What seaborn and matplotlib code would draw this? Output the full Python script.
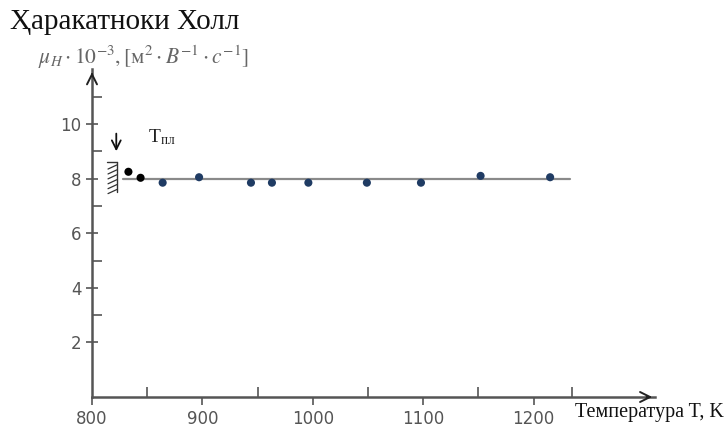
import matplotlib
matplotlib.use("Agg")
import matplotlib.pyplot as plt
import seaborn as sns
import pandas as pd
import numpy as np
from matplotlib.ticker import FixedLocator

# ---- data ----
temps = [833, 844, 864, 897, 944, 963, 996, 1049, 1098, 1152, 1215]
mobility = [8.25, 8.03, 7.85, 8.05, 7.85, 7.85, 7.85, 7.85, 7.85, 8.1, 8.05]
phase = ["solid", "solid", "melt", "melt", "melt", "melt", "melt", "melt", "melt", "melt", "melt"]
fit_t = [828, 1233]
fit_mu = [8.0, 8.0]
x_major = [800, 900, 1000, 1100, 1200]
x_minor = [850, 950, 1050, 1150, 1235]
y_major = [2, 4, 6, 8, 10]
y_minor = [3, 5, 7, 9, 11]

df = pd.DataFrame({"T": temps, "mu": mobility, "phase": phase})
fit = pd.DataFrame({"T": fit_t, "mu": fit_mu})

sns.set_style("white")
plt.rcParams["font.family"] = ["DejaVu Sans"]
plt.rcParams["mathtext.fontset"] = "stix"

fig = plt.figure(figsize=(7.26, 4.28), dpi=100)
ax = fig.add_axes([92 / 726, 31 / 428, 563 / 726, 327.6 / 428])

axis_c = "#555555"
sns.lineplot(data=fit, x="T", y="mu", ax=ax, color="#8a8a8a", lw=1.6)
sns.scatterplot(data=df, x="T", y="mu", hue="phase",
                palette={"solid": "#000000", "melt": "#1f3b63"},
                s=34, edgecolor="none", legend=False, ax=ax, zorder=3)

ax.set_xlim(800, 1310)
ax.set_ylim(0, 12)
for s in ["top", "right"]:
    ax.spines[s].set_visible(False)
for s in ["left", "bottom"]:
    ax.spines[s].set_color(axis_c)
    ax.spines[s].set_linewidth(1.8)

ax.xaxis.set_major_locator(FixedLocator(x_major))
ax.xaxis.set_minor_locator(FixedLocator(x_minor))
ax.yaxis.set_major_locator(FixedLocator(y_major))
ax.yaxis.set_minor_locator(FixedLocator(y_minor))
ax.tick_params(axis="x", which="both", bottom=True)
ax.tick_params(axis="y", which="both", left=True)
ax.tick_params(axis="x", which="major", direction="out", length=6, width=1.2,
               color=axis_c, labelsize=12, labelcolor="#555555", pad=3)
ax.tick_params(axis="x", which="minor", direction="in", length=7, width=1.2, color=axis_c)
ax.tick_params(axis="y", which="major", direction="inout", length=9, width=1.2,
               color=axis_c, labelsize=12, labelcolor="#555555", pad=3)
ax.tick_params(axis="y", which="minor", direction="in", length=7, width=1.2, color=axis_c)
ax.set_xlabel("")
ax.set_ylabel("")

# axis arrows
ax.annotate("", xy=(1.0, 0), xytext=(0.98, 0), xycoords="axes fraction",
            arrowprops=dict(arrowstyle="->", color="#222222", lw=1.4,
                            mutation_scale=18), annotation_clip=False)
ax.annotate("", xy=(0, 1.0), xytext=(0, 0.97), xycoords="axes fraction",
            arrowprops=dict(arrowstyle="->", color="#222222", lw=1.4,
                            mutation_scale=18), annotation_clip=False)

# melting point marker: down arrow and hatched wall
ax.annotate("", xy=(822, 8.9), xytext=(822, 9.75),
            arrowprops=dict(arrowstyle="->", color="#111111", lw=1.3, mutation_scale=16))
wall_x = 822.5
ax.plot([wall_x, wall_x], [7.5, 8.6], color="#333333", lw=1.0)
ax.plot([wall_x - 9, wall_x], [8.6, 8.6], color="#333333", lw=1.0)
for yy in np.linspace(7.55, 8.45, 6):
    ax.plot([wall_x - 8, wall_x], [yy - 0.1, yy + 0.05], color="#333333", lw=0.9)
ax.text(851, 9.15, r"T$_{\mathrm{пл}}$", fontsize=14, family="Liberation Serif",
        color="#222222", va="bottom", ha="left")

# titles and labels
fig.text(10 / 726, 1 - 22 / 428, "Ҳаракатноки Холл", fontsize=21,
         family="Liberation Serif", color="#111111", va="center", ha="left")
fig.text(38 / 726, 1 - 57 / 428,
         r"$\mu_H \cdot 10^{-3}, [\mathrm{м}^2 \cdot B^{-1} \cdot c^{-1}]$",
         fontsize=15.5, color="#666666", va="center", ha="left")
fig.text(575 / 726, 1 - 412 / 428, "Температура T, K", fontsize=14.5,
         family="Liberation Serif", color="#111111", va="center", ha="left")

fig.savefig("out.png", dpi=100)
